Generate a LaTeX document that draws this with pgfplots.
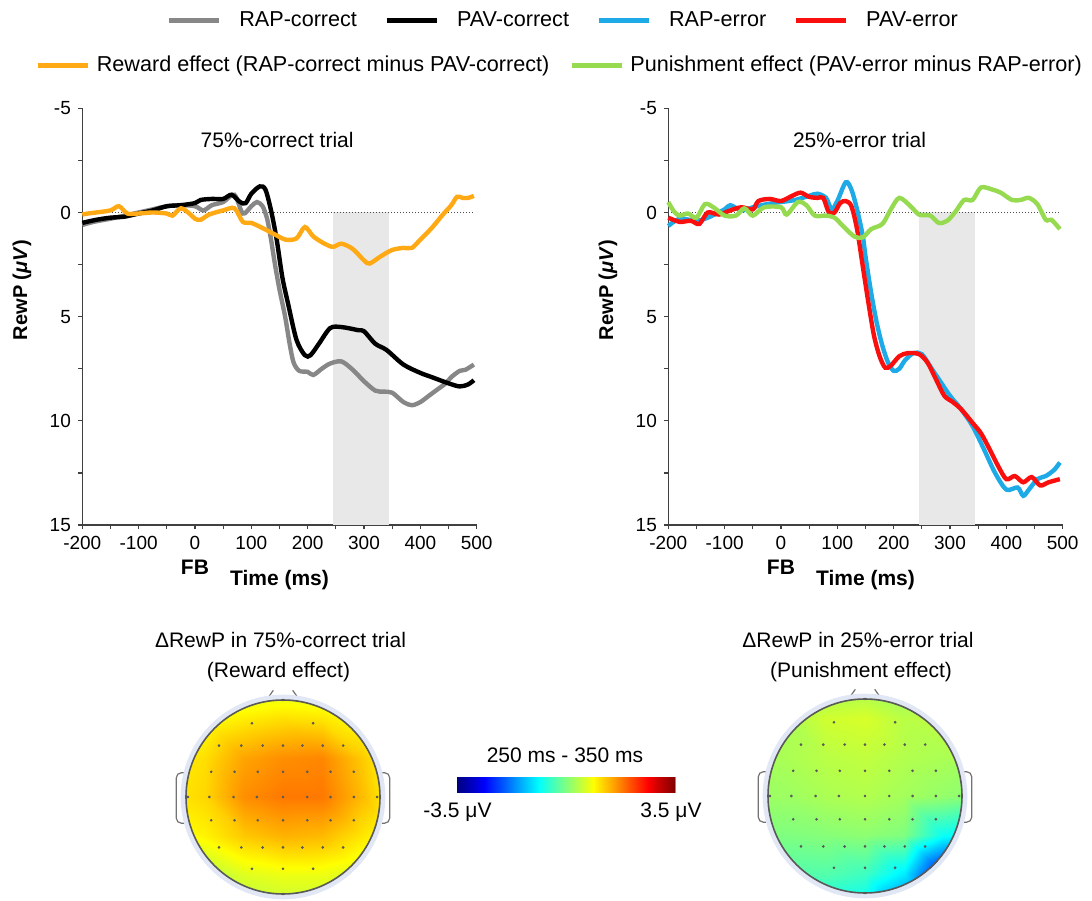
\documentclass[border=0pt]{standalone}
\usepackage{fontspec}
\setmainfont{Liberation Sans}
\usepackage{pgfplots}
\pgfplotsset{compat=1.18}
\definecolor{cgray}{RGB}{135,135,135}
\definecolor{cblue}{RGB}{30,170,230}
\definecolor{cred}{RGB}{250,15,15}
\definecolor{corange}{RGB}{255,170,20}
\definecolor{cgreen}{RGB}{150,218,80}
\definecolor{halo}{RGB}{226,231,246}
\newcommand\fsz{\fontsize{10.5}{12}\selectfont}
\newcommand\lsz{\fontsize{10.8}{12}\selectfont}
\pgfplotsset{
 erp/.style={
  scale only axis, width=197.2pt, height=208.35pt,
  xmin=-200, xmax=500, ymin=-5, ymax=15, y dir=reverse,
  axis x line*=bottom, axis y line*=left,
  axis line style={-, black!75, line width=0.7pt},
  tick align=outside, major tick length=2.2pt, minor tick length=2.2pt,
  tick style={black!75, line width=0.6pt},
  xtick={-200,-100,...,500}, minor xtick={-150,-50,...,450},
  ytick={-5,0,5,10,15}, minor ytick={-2.5,2.5,7.5,12.5},
  tick label style={font=\fontsize{9.5}{11}\selectfont},
  /pgf/number format/assume math mode=true,
  xlabel={Time (ms)},
  xlabel style={font=\bfseries\fontsize{10.5}{12}\selectfont, at={(axis description cs:0.5,-0.132)}, anchor=center},
  ylabel={RewP (\textit{μV})},
  ylabel style={font=\bfseries\fontsize{10}{12}\selectfont, at={(axis description cs:-0.153,0.564)}, anchor=center},
  legend image code/.code={\draw[#1, line width=2.5pt] (0pt,0pt) -- (25pt,0pt);},
  legend style={draw=none, fill=none, inner sep=0pt, font=\lsz, nodes={inner sep=0pt}},
  clip=false,
 },
 curve/.style={line width=2.2pt, smooth, forget plot},
 topo/.style={
  scale only axis, width=121.25pt, height=121.25pt,
  xmin=-1.25, xmax=1.25, ymin=-1.25, ymax=1.25, hide axis, clip=false,
  colormap={myjet}{rgb255(0cm)=(0,0,128) rgb255(1cm)=(0,0,255) rgb255(3cm)=(0,255,255) rgb255(5cm)=(255,255,0) rgb255(7cm)=(255,0,0) rgb255(8cm)=(128,0,0)},
  point meta min=-3.5, point meta max=3.5,
 },
}
\begin{document}
\begin{tikzpicture}
\path[use as bounding box] (0pt,0pt) rectangle (546pt,450pt);

% ---------------- Left ERP panel ----------------
\begin{axis}[erp, at={(41.15pt,187.5pt)}, anchor=south west,
  legend columns=4, legend style={at={(0.2122,1.2095)}, anchor=west,
    /tikz/every odd column/.append style={column sep=9pt},
    /tikz/every even column/.append style={column sep=13.5pt}}]
\addplot[fill=black!9, draw=none, forget plot] coordinates {(245,0) (345,0) (345,15) (245,15)} -- cycle;
\addplot[densely dotted, black!70, line width=0.5pt, forget plot] coordinates {(-200,0) (497,0)};
\addplot[curve, cgray] coordinates {(-200,0.6) (-180,0.45) (-150,0.3) (-125,0.15) (-100,0.0) (-75,-0.15) (-50,-0.3) (-25,-0.35) (0,-0.3) (15,-0.1) (30,-0.35) (50,-0.5) (70,-0.85) (85,0.05) (100,-0.3) (110,-0.5) (120,-0.3) (128,0.3) (135,1.3) (142,2.5) (150,3.7) (160,5.0) (168,6.3) (175,7.2) (185,7.6) (200,7.65) (210,7.8) (225,7.5) (240,7.25) (260,7.15) (280,7.55) (300,8.1) (320,8.55) (335,8.6) (350,8.65) (370,9.1) (385,9.25) (400,9.1) (415,8.8) (430,8.5) (445,8.2) (455,7.9) (470,7.6) (480,7.55) (495,7.3)};
\addplot[curve, black] coordinates {(-200,0.5) (-175,0.35) (-150,0.25) (-125,0.2) (-100,0.05) (-75,-0.1) (-50,-0.3) (-25,-0.35) (0,-0.45) (10,-0.6) (30,-0.65) (50,-0.65) (65,-0.85) (80,-0.5) (90,-0.45) (100,-0.9) (115,-1.25) (125,-1.1) (135,-0.1) (145,1.3) (155,3.1) (165,4.35) (180,6.1) (195,6.85) (205,6.85) (220,6.3) (240,5.55) (260,5.5) (290,5.65) (300,5.7) (320,6.3) (340,6.6) (370,7.3) (400,7.7) (420,7.9) (450,8.2) (470,8.35) (485,8.25) (495,8.05)};
\addplot[curve, corange] coordinates {(-200,0.1) (-190,0.05) (-175,0) (-150,-0.1) (-135,-0.3) (-120,0.05) (-100,0.05) (-75,0) (-50,0.05) (-40,0.15) (-25,-0.2) (-10,0.05) (0,0.3) (10,0.35) (25,0.1) (50,-0.1) (70,-0.2) (85,0.45) (100,0.5) (120,0.75) (145,1.1) (160,1.3) (180,1.25) (195,0.7) (210,1.15) (230,1.5) (245,1.65) (260,1.5) (280,1.75) (300,2.3) (310,2.45) (330,2.1) (350,1.8) (370,1.7) (385,1.7) (400,1.3) (420,0.75) (440,0.1) (455,-0.35) (465,-0.75) (475,-0.7) (485,-0.7) (495,-0.8)};
\addlegendimage{cgray}\addlegendentry{RAP-correct}
\addlegendimage{black}\addlegendentry{PAV-correct}
\addlegendimage{cblue}\addlegendentry{RAP-error}
\addlegendimage{cred}\addlegendentry{PAV-error}
\node[font=\fsz] at (axis description cs:0.494,0.924) {75\%-correct trial};
\node[font=\bfseries\fsz] at (axis description cs:0.2857,-0.1008) {FB};
\end{axis}

% ---------------- Right ERP panel ----------------
\begin{axis}[erp, at={(334.15pt,187.5pt)}, anchor=south west,
  legend columns=2, legend style={at={(-1.6045,1.1039)}, anchor=west,
    /tikz/every odd column/.append style={column sep=3pt},
    /tikz/every even column/.append style={column sep=10pt}}]
\addplot[fill=black!9, draw=none, forget plot] coordinates {(245,0) (345,0) (345,15) (245,15)} -- cycle;
\addplot[densely dotted, black!70, line width=0.5pt, forget plot] coordinates {(-200,0) (497,0)};
\addplot[curve, cblue] coordinates {(-200,0.65) (-180,0.3) (-150,0.4) (-130,0.25) (-100,-0.15) (-90,-0.35) (-70,-0.1) (-50,-0.25) (-25,-0.4) (0,-0.5) (25,-0.6) (50,-0.8) (65,-0.9) (80,-0.7) (90,-0.15) (100,-0.55) (115,-1.45) (125,-1.1) (135,-0.15) (145,1.1) (150,2.1) (160,3.85) (170,5.3) (180,6.4) (190,7.2) (200,7.6) (210,7.5) (220,7.1) (235,6.75) (250,6.8) (265,7.4) (280,8.0) (300,8.8) (320,9.45) (340,10.25) (360,11.35) (380,12.5) (400,13.3) (420,13.2) (430,13.6) (440,13.3) (455,12.8) (470,12.65) (485,12.35) (495,12.0)};
\addplot[curve, cred] coordinates {(-200,0.25) (-180,0.45) (-160,0.4) (-145,0.55) (-130,0) (-110,0.1) (-90,-0.1) (-70,-0.25) (-50,-0.15) (-40,-0.55) (-20,-0.65) (0,-0.55) (20,-0.8) (35,-0.95) (50,-0.75) (65,-0.7) (75,-0.7) (85,0) (95,0) (105,-0.45) (115,-0.55) (125,-0.3) (135,0.8) (145,2.55) (155,4.3) (165,5.9) (175,6.9) (185,7.45) (195,7.35) (210,6.9) (225,6.75) (245,6.8) (260,7.2) (275,8.0) (290,8.8) (305,9.1) (320,9.45) (340,10.1) (355,10.6) (370,11.35) (385,12.15) (400,12.8) (415,12.65) (430,12.95) (445,12.7) (460,13.1) (475,12.95) (495,12.8)};
\addplot[curve, cgreen] coordinates {(-200,-0.5) (-190,-0.05) (-180,0.15) (-165,0.05) (-150,0.25) (-135,-0.4) (-120,-0.25) (-100,0.15) (-80,0.15) (-65,-0.2) (-50,0.15) (-30,-0.25) (0,-0.25) (10,0.1) (30,-0.5) (45,-0.35) (60,0.15) (80,0.15) (95,0.25) (110,0.65) (130,1.15) (145,1.2) (160,0.8) (180,0.55) (195,-0.15) (210,-0.7) (230,-0.3) (245,0.1) (265,0.15) (280,0.5) (295,0.4) (310,-0.05) (325,-0.6) (340,-0.6) (355,-1.2) (375,-1.1) (390,-0.95) (410,-0.6) (425,-0.6) (440,-0.7) (455,-0.4) (470,0.35) (480,0.35) (495,0.8)};
\addlegendimage{corange}\addlegendentry{Reward effect (RAP-correct minus PAV-correct)}
\addlegendimage{cgreen}\addlegendentry{Punishment effect (PAV-error minus RAP-error)}
\node[font=\fsz] at (axis description cs:0.485,0.924) {25\%-error trial};
\node[font=\bfseries\fsz] at (axis description cs:0.2857,-0.1008) {FB};
\end{axis}

% ---------------- Left topomap ----------------
\begin{axis}[topo, at={(141.5pt,51.5pt)}, anchor=center]
\draw[black!55, line width=0.6pt, fill=white, rounded corners=2.5pt] (axis cs:-1.1,-0.27) rectangle (axis cs:-0.97,0.25);
\draw[black!55, line width=0.6pt, fill=white, rounded corners=2.5pt] (axis cs:0.97,-0.27) rectangle (axis cs:1.1,0.25);
\draw[black!55, line width=0.6pt] (axis cs:-0.17,1.0) -- (axis cs:-0.1,1.1);
\draw[black!55, line width=0.6pt] (axis cs:0.17,1.0) -- (axis cs:0.1,1.1);
\fill[halo] (axis cs:0,0) circle[radius=1.055];
\begin{scope}
\clip (axis cs:0,0) circle[radius=1];
\addplot[surf, shader=interp, mesh/cols=7, point meta=explicit] table[meta=c] {
x y c
-1.2 -1.2 -0.1
-0.8 -1.2 0.2
-0.4 -1.2 0.35
0 -1.2 0.4
0.4 -1.2 0.4
0.8 -1.2 0.35
1.2 -1.2 0.3

-1.2 -0.8 0.0
-0.8 -0.8 0.35
-0.4 -0.8 0.65
0 -0.8 0.75
0.4 -0.8 0.75
0.8 -0.8 0.6
1.2 -0.8 0.4

-1.2 -0.4 0.7
-0.8 -0.4 0.95
-0.4 -0.4 1.25
0 -0.4 1.4
0.4 -0.4 1.35
0.8 -0.4 1.05
1.2 -0.4 0.75

-1.2 0 1.0
-0.8 0 1.15
-0.4 0 1.65
0 0 1.8
0.4 0 1.8
0.8 0 1.35
1.2 0 0.8

-1.2 0.4 0.95
-0.8 0.4 1.1
-0.4 0.4 1.5
0 0.4 1.65
0.4 0.4 1.7
0.8 0.4 1.25
1.2 0.4 0.8

-1.2 0.8 0.7
-0.8 0.8 0.85
-0.4 0.8 1.0
0 0.8 1.1
0.4 0.8 1.05
0.8 0.8 0.85
1.2 0.8 0.65

-1.2 1.2 0.4
-0.8 1.2 0.4
-0.4 1.2 0.45
0 1.2 0.5
0.4 1.2 0.5
0.8 1.2 0.4
1.2 1.2 0.4
};
\end{scope}
\addplot[only marks, mark=*, mark size=0.45pt, black!65] coordinates {(0,1) (-0.32,0.76) (0.31,0.76) (-0.66,0.53) (-0.43,0.53) (-0.21,0.53) (0,0.53) (0.2,0.53) (0.41,0.53) (0.62,0.53) (-0.74,0.26) (-0.5,0.26) (-0.26,0.26) (0,0.26) (0.25,0.26) (0.49,0.26) (0.73,0.26) (-0.98,0) (-0.76,0) (-0.51,0) (-0.27,0) (0,0) (0.25,0) (0.49,0) (0.73,0) (0.97,0) (-0.74,-0.24) (-0.5,-0.24) (-0.26,-0.24) (0,-0.24) (0.25,-0.24) (0.49,-0.24) (0.73,-0.24) (-0.66,-0.52) (-0.43,-0.52) (-0.21,-0.52) (0,-0.52) (0.2,-0.52) (0.41,-0.52) (0.62,-0.52) (-0.32,-0.74) (0,-0.74) (0.31,-0.74) (0,-1)};
\draw[black!65, line width=0.8pt] (axis cs:0,0) circle[radius=1];
\end{axis}

% ---------------- Right topomap ----------------
\begin{axis}[topo, at={(432.5pt,52pt)}, anchor=center]
\draw[black!55, line width=0.6pt, fill=white, rounded corners=2.5pt] (axis cs:-1.1,-0.27) rectangle (axis cs:-0.97,0.25);
\draw[black!55, line width=0.6pt, fill=white, rounded corners=2.5pt] (axis cs:0.97,-0.27) rectangle (axis cs:1.1,0.25);
\draw[black!55, line width=0.6pt] (axis cs:-0.17,1.0) -- (axis cs:-0.1,1.1);
\draw[black!55, line width=0.6pt] (axis cs:0.17,1.0) -- (axis cs:0.1,1.1);
\fill[halo] (axis cs:0,0) circle[radius=1.055];
\begin{scope}
\clip (axis cs:0,0) circle[radius=1];
\addplot[surf, shader=interp, mesh/cols=7, point meta=explicit] table[meta=c] {
x y c
-1.2 -1.2 -0.9
-0.8 -1.2 -0.9
-0.4 -1.2 -0.9
0 -1.2 -1.0
0.4 -1.2 -2.0
0.8 -1.2 -2.8
1.2 -1.2 -3.2

-1.2 -0.8 -0.3
-0.8 -0.8 -0.3
-0.4 -0.8 -0.3
0 -0.8 -0.45
0.4 -0.8 -1.0
0.8 -0.8 -2.6
1.2 -0.8 -2.8

-1.2 -0.4 0.0
-0.8 -0.4 0.0
-0.4 -0.4 0.05
0 -0.4 0.1
0.4 -0.4 0.0
0.8 -0.4 -0.8
1.2 -0.4 -1.0

-1.2 0 0.2
-0.8 0 0.2
-0.4 0 0.3
0 0 0.35
0.4 0 0.25
0.8 0 0.15
1.2 0 0.05

-1.2 0.4 0.25
-0.8 0.4 0.3
-0.4 0.4 0.4
0 0.4 0.45
0.4 0.4 0.35
0.8 0.4 0.3
1.2 0.4 0.45

-1.2 0.8 0.3
-0.8 0.8 0.3
-0.4 0.8 0.55
0 0.8 0.6
0.4 0.8 0.4
0.8 0.8 0.45
1.2 0.8 0.75

-1.2 1.2 -0.1
-0.8 1.2 0.0
-0.4 1.2 0.15
0 1.2 0.2
0.4 1.2 0.1
0.8 1.2 0.2
1.2 1.2 0.3
};
\end{scope}
\addplot[only marks, mark=*, mark size=0.45pt, black!65] coordinates {(0,1) (-0.32,0.76) (0.31,0.76) (-0.66,0.53) (-0.43,0.53) (-0.21,0.53) (0,0.53) (0.2,0.53) (0.41,0.53) (0.62,0.53) (-0.74,0.26) (-0.5,0.26) (-0.26,0.26) (0,0.26) (0.25,0.26) (0.49,0.26) (0.73,0.26) (-0.98,0) (-0.76,0) (-0.51,0) (-0.27,0) (0,0) (0.25,0) (0.49,0) (0.73,0) (0.97,0) (-0.74,-0.24) (-0.5,-0.24) (-0.26,-0.24) (0,-0.24) (0.25,-0.24) (0.49,-0.24) (0.73,-0.24) (-0.66,-0.52) (-0.43,-0.52) (-0.21,-0.52) (0,-0.52) (0.2,-0.52) (0.41,-0.52) (0.62,-0.52) (-0.32,-0.74) (0,-0.74) (0.31,-0.74) (0,-1)};
\draw[black!65, line width=0.8pt] (axis cs:0,0) circle[radius=1];
\end{axis}

% ---------------- Colour bar ----------------
\begin{axis}[at={(228.5pt,54pt)}, anchor=south west, scale only axis, width=109pt, height=7.5pt,
  xmin=-3.5, xmax=3.5, ymin=0, ymax=1, xtick=\empty, ytick=\empty,
  axis line style={black!45, line width=0.4pt},
  colormap={myjet}{rgb255(0cm)=(0,0,128) rgb255(1cm)=(0,0,255) rgb255(3cm)=(0,255,255) rgb255(5cm)=(255,255,0) rgb255(7cm)=(255,0,0) rgb255(8cm)=(128,0,0)},
  point meta min=-3.5, point meta max=3.5]
\addplot[surf, shader=interp, mesh/cols=15, point meta=x] table {
x y
-3.5 0
-3 0
-2.5 0
-2 0
-1.5 0
-1 0
-0.5 0
0 0
0.5 0
1 0
1.5 0
2 0
2.5 0
3 0
3.5 0

-3.5 1
-3 1
-2.5 1
-2 1
-1.5 1
-1 1
-0.5 1
0 1
0.5 1
1 1
1.5 1
2 1
2.5 1
3 1
3.5 1
};
\end{axis}

% ---------------- Texts ----------------
\node[font=\fsz] at (282.5pt,72.5pt) {250 ms - 350 ms};
\node[font=\fsz] at (228.75pt,44pt) {-3.5 μV};
\node[font=\fsz] at (335.5pt,44pt) {3.5 μV};
\node[font=\fsz] at (140.25pt,130pt) {ΔRewP in 75\%-correct trial};
\node[font=\fsz] at (139.25pt,114pt) {(Reward effect)};
\node[font=\fsz] at (429pt,130pt) {ΔRewP in 25\%-error trial};
\node[font=\fsz] at (430.5pt,114pt) {(Punishment effect)};
\end{tikzpicture}
\end{document}
